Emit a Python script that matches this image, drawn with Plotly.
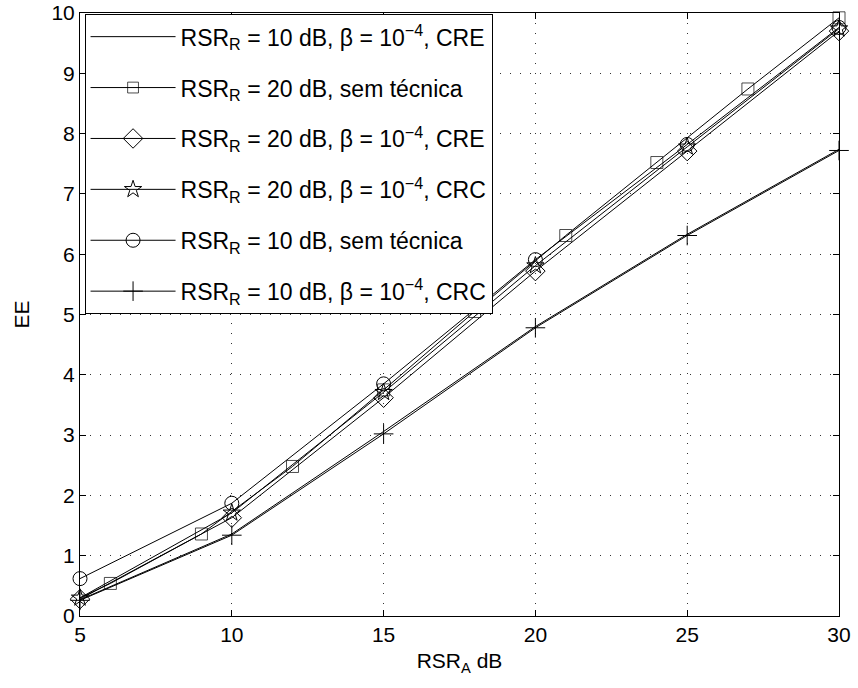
import plotly.graph_objects as go

x_main = [5, 10, 15, 20, 25, 30]
x_sq = [5, 6, 9, 12, 15, 18, 21, 24, 27, 30]

ee_10_cre = [0.27, 1.36, 3.06, 4.80, 6.33, 7.74]
ee_20_sem = [0.30, 0.54, 1.36, 2.48, 3.75, 5.05, 6.31, 7.52, 8.74, 9.92]
ee_20_cre = [0.28, 1.63, 3.62, 5.72, 7.71, 9.70]
ee_20_crc = [0.30, 1.71, 3.71, 5.81, 7.78, 9.74]
ee_10_sem = [0.62, 1.87, 3.85, 5.91, 7.82, 9.76]
ee_10_crc = [0.26, 1.34, 3.02, 4.78, 6.31, 7.72]

names = [
    "RSR<sub>R</sub> = 10 dB, β = 10<sup>−4</sup>, CRE",
    "RSR<sub>R</sub> = 20 dB, sem técnica",
    "RSR<sub>R</sub> = 20 dB, β = 10<sup>−4</sup>, CRE",
    "RSR<sub>R</sub> = 20 dB, β = 10<sup>−4</sup>, CRC",
    "RSR<sub>R</sub> = 10 dB, sem técnica",
    "RSR<sub>R</sub> = 10 dB, β = 10<sup>−4</sup>, CRC",
]

fig = go.Figure()
line = dict(color="black", width=1)

def add(x, y, name, i, marker=None):
    kw = dict(x=x, y=y, name=name, line=line, legendgroup=f"g{i}", cliponaxis=False)
    if marker is None:
        kw["mode"] = "lines"
    else:
        kw["mode"] = "lines+markers"
        kw["marker"] = marker
    fig.add_trace(go.Scatter(**kw))

add(x_main, ee_10_cre, names[0], 0)
add(x_sq, ee_20_sem, names[1], 1,
    dict(symbol="square-open", size=[0] + [12]*9, color="black", line=dict(width=1)))
add(x_main, ee_20_cre, names[2], 2,
    dict(symbol="diamond-open", size=15, color="black", line=dict(width=1)))
add(x_main, ee_20_crc, names[3], 3,
    dict(symbol="star-open", size=13, color="black", line=dict(width=1)))
add(x_main, ee_10_sem, names[4], 4,
    dict(symbol="circle-open", size=14, color="black", line=dict(width=1)))
add(x_main, ee_10_crc, names[5], 5,
    dict(symbol="cross-thin-open", size=14, color="black", line=dict(width=1)))

axis_common = dict(
    showline=True, linecolor="black", linewidth=1, mirror="allticks",
    ticks="inside", ticklen=6, tickcolor="black", automargin=False,
    showgrid=True, gridcolor="#333333", griddash="1px,9px", gridwidth=1,
    zeroline=False, tickfont=dict(size=21, color="black"),
)

fig.update_layout(
    width=858, height=688,
    margin=dict(l=80, r=19, t=13, b=72),
    paper_bgcolor="white", plot_bgcolor="white",
    font=dict(family="Liberation Sans, Arial, sans-serif", color="black", size=21),
    xaxis=dict(range=[5, 30], tickvals=[5, 10, 15, 20, 25, 30],
               title=dict(text="RSR<sub>A</sub> dB", font=dict(size=21), standoff=8), **axis_common),
    yaxis=dict(range=[0, 10], tickvals=list(range(0, 11)),
               title=dict(text="EE", font=dict(size=21), standoff=16), **axis_common),
    showlegend=True,
    legend=dict(x=0.006, y=0.998, xanchor="left", yanchor="top",
                bgcolor="white", bordercolor="black", borderwidth=1,
                font=dict(size=23, color="black"), tracegroupgap=18, itemwidth=85),
)

fig.write_html("out.html", config={"displayModeBar": False},
               post_script="document.body.style.margin='0';document.body.style.overflow='hidden';")
